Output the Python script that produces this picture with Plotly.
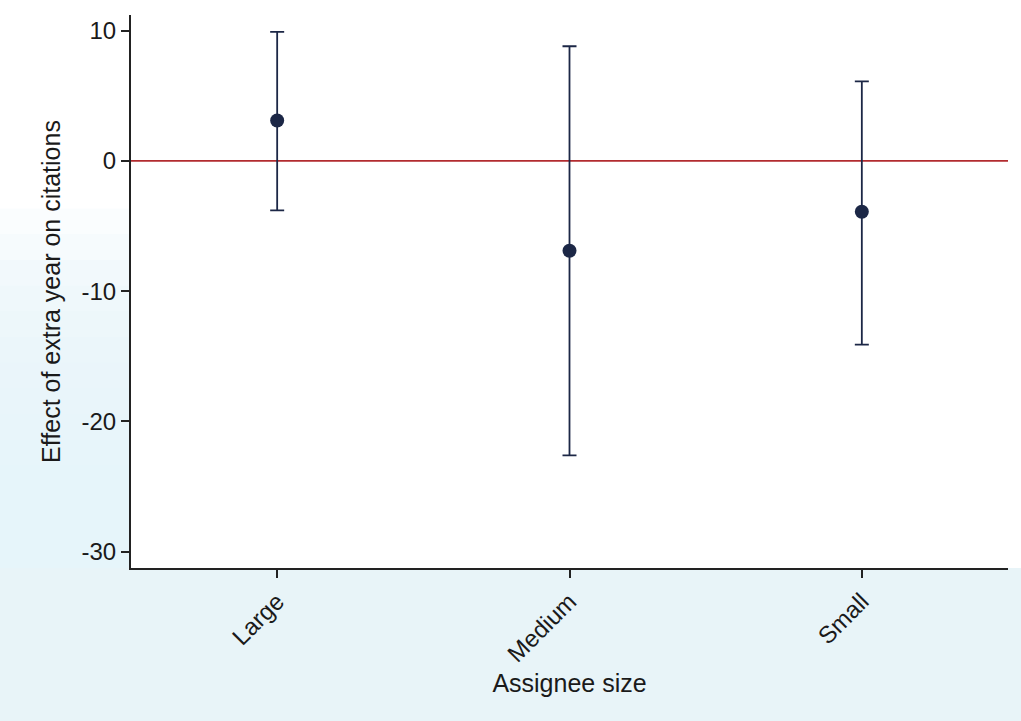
import plotly.graph_objects as go

# Point estimates and 95% confidence bounds by assignee size
categories = ["Large", "Medium", "Small"]
estimates = [3.1, -6.9, -3.9]
upper = [9.9, 8.8, 6.1]
lower = [-3.8, -22.6, -14.1]
y_ticks = [10, 0, -10, -20, -30]
y_tick_text = ["10", "0", "-10", "-20", "-30"]

xpos = list(range(1, len(categories) + 1))
err_plus = [u - e for u, e in zip(upper, estimates)]
err_minus = [e - l for e, l in zip(estimates, lower)]

navy = "#1c2746"
font_family = "Liberation Sans, Arial, Helvetica, sans-serif"

fig = go.Figure()

fig.add_trace(go.Scatter(
    x=xpos,
    y=estimates,
    mode="markers",
    marker=dict(size=14, color=navy),
    error_y=dict(
        type="data",
        symmetric=False,
        array=err_plus,
        arrayminus=err_minus,
        color=navy,
        thickness=1.8,
        width=7,
    ),
    showlegend=False,
))

# Zero reference line
fig.add_shape(
    type="line", xref="paper", yref="y",
    x0=0, x1=1, y0=0, y1=0,
    line=dict(color="#b22b2f", width=1.8),
    layer="below",
)

# Pale blue tint in the margins around the axes
tint = "#e8f4f8"
fig.add_shape(
    type="rect", xref="paper", yref="paper",
    x0=-0.2, x1=1.05, y0=-0.3, y1=0,
    fillcolor=tint, line=dict(width=0), layer="below",
)
# Left margin: tint fades out upward in thin overlapping bands
n_bands = 14
band_top = 0.65
for i in range(n_bands):
    fig.add_shape(
        type="rect", xref="paper", yref="paper",
        x0=-0.2, x1=0, y0=0, y1=band_top * (i + 1) / n_bands,
        fillcolor=tint, opacity=0.2, line=dict(width=0), layer="below",
    )

fig.update_layout(
    width=1021,
    height=721,
    margin=dict(l=131, r=13, t=15, b=153),
    paper_bgcolor="#ffffff",
    plot_bgcolor="#ffffff",
    font=dict(family=font_family, color="#1a1a1a", size=24),
    xaxis=dict(
        range=[0.5, 3.5],
        tickmode="array",
        tickvals=xpos,
        ticktext=categories,
        tickangle=-45,
        ticks="outside",
        ticklen=8,
        tickwidth=1.5,
        tickcolor="#222222",
        showline=True,
        linecolor="#222222",
        linewidth=2,
        showgrid=False,
        zeroline=False,
        tickfont=dict(size=24),
        title=dict(text="Assignee size", font=dict(size=25), standoff=8),
    ),
    yaxis=dict(
        range=[-31.25, 11.2],
        tickmode="array",
        tickvals=y_ticks,
        ticktext=y_tick_text,
        ticks="outside",
        ticklen=8,
        tickwidth=1.5,
        tickcolor="#222222",
        showline=True,
        linecolor="#222222",
        linewidth=2,
        showgrid=False,
        zeroline=False,
        tickfont=dict(size=24),
        title=dict(text="Effect of extra year on citations", font=dict(size=25), standoff=14),
    ),
)

fig.write_html("out.html")
